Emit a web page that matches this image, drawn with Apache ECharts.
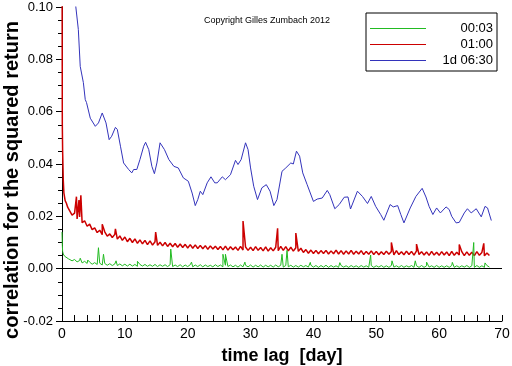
<!DOCTYPE html>
<html><head><meta charset="utf-8">
<script src="https://cdn.jsdelivr.net/npm/echarts@6/dist/echarts.min.js"></script>
<style>html,body{margin:0;padding:0;background:#fff}#c{width:512px;height:366px}</style>
</head><body><div id="c"></div>
<script>
var seriesNames = ['00:03', '01:00', '1d 06:30'];
var seriesColors = ['#22bb22', '#cc0000', '#3333bb'];
var xTicks = [0, 10, 20, 30, 40, 50, 60, 70];

// regular lag grid (days) used by the two dense series after the first day
var gridStart = 1.2, gridStep = 0.4, gridCount = 168;

var greenEarlyLag = [0.0, 0.05, 0.1, 0.2, 0.4, 0.7, 1.0];
var greenEarlyVal = [0.0140, 0.0090, 0.0066, 0.0056, 0.0048, 0.0042, 0.0038];
var greenVal = [
0.0038,0.0030,0.0035,0.0026,0.0031,0.0022,0.0028,0.0020,0.0025,0.0017,
0.0023,0.0016,0.0021,0.0014,0.0020,0.0013,0.0019,0.0012,0.0018,0.0012,
0.0018,0.0011,0.0017,0.0010,0.0017,0.0010,0.0016,0.0009,0.0016,0.0010,
0.0016,0.0009,0.0015,0.0009,0.0016,0.0008,0.0015,0.0009,0.0015,0.0008,
0.0015,0.0008,0.0014,0.0008,0.0015,0.0007,0.0014,0.0008,0.0015,0.0007,
0.0014,0.0008,0.0015,0.0007,0.0014,0.0008,0.0013,0.0007,0.0015,0.0008,
0.0014,0.0007,0.0013,0.0008,0.0014,0.0007,0.0013,0.0006,0.0014,0.0007,
0.0013,0.0007,0.0014,0.0006,0.0013,0.0007,0.0014,0.0006,0.0013,0.0007,
0.0013,0.0006,0.0014,0.0007,0.0013,0.0006,0.0012,0.0007,0.0013,0.0006,
0.0012,0.0006,0.0013,0.0007,0.0012,0.0006,0.0013,0.0006,0.0012,0.0005,
0.0012,0.0006,0.0013,0.0005,0.0012,0.0006,0.0011,0.0005,0.0012,0.0006,
0.0011,0.0005,0.0012,0.0006,0.0011,0.0005,0.0012,0.0006,0.0011,0.0005,
0.0012,0.0005,0.0011,0.0006,0.0012,0.0005,0.0011,0.0005,0.0012,0.0006,
0.0011,0.0005,0.0012,0.0005,0.0011,0.0006,0.0012,0.0005,0.0011,0.0005,
0.0012,0.0005,0.0011,0.0006,0.0011,0.0005,0.0012,0.0005,0.0011,0.0005,
0.0011,0.0005,0.0012,0.0005,0.0011,0.0005,0.0011,0.0006,0.0012,0.0005,
0.0011,0.0005,0.0012,0.0005,0.0011,0.0005,0.0012,0.0006
];
var greenSpikeLag = [2.9, 4.1, 5.8, 6.6, 8.6, 12.0, 17.3, 20.6, 25.6, 26.0, 29.1, 35.0, 35.8, 39.5, 44.2, 49.1, 52.5, 56.2, 58.0, 62.1, 65.5, 67.3];
var greenSpikeVal = [0.0040, 0.0033, 0.0080, 0.0055, 0.0030, 0.0028, 0.0075, 0.0025, 0.0055, 0.0055, 0.0025, 0.0055, 0.0070, 0.0024, 0.0023, 0.0052, 0.0030, 0.0030, 0.0025, 0.0024, 0.0100, 0.0022];

var redEarlyLag = [0.0, 0.05, 0.1, 0.2, 0.3, 0.5, 0.7, 0.9];
var redEarlyVal = [0.1400, 0.0550, 0.0450, 0.0340, 0.0290, 0.0260, 0.0250, 0.0235];
var redVal = [
0.0228,0.0205,0.0212,0.0190,0.0198,0.0176,0.0183,0.0162,0.0170,0.0149,
0.0156,0.0138,0.0147,0.0130,0.0141,0.0124,0.0133,0.0119,0.0131,0.0113,
0.0125,0.0108,0.0121,0.0103,0.0116,0.0100,0.0114,0.0097,0.0110,0.0095,
0.0108,0.0092,0.0106,0.0090,0.0103,0.0089,0.0101,0.0087,0.0100,0.0085,
0.0097,0.0084,0.0096,0.0082,0.0094,0.0081,0.0093,0.0079,0.0092,0.0078,
0.0091,0.0077,0.0089,0.0076,0.0088,0.0074,0.0087,0.0075,0.0086,0.0073,
0.0085,0.0072,0.0086,0.0071,0.0084,0.0072,0.0083,0.0070,0.0085,0.0071,
0.0083,0.0070,0.0082,0.0069,0.0084,0.0070,0.0081,0.0068,0.0083,0.0067,
0.0080,0.0068,0.0082,0.0069,0.0085,0.0070,0.0084,0.0068,0.0082,0.0067,
0.0080,0.0066,0.0078,0.0062,0.0073,0.0059,0.0071,0.0058,0.0070,0.0057,
0.0069,0.0058,0.0070,0.0056,0.0068,0.0057,0.0071,0.0056,0.0069,0.0055,
0.0068,0.0056,0.0070,0.0055,0.0067,0.0056,0.0069,0.0054,0.0066,0.0055,
0.0068,0.0054,0.0066,0.0053,0.0065,0.0054,0.0067,0.0055,0.0066,0.0053,
0.0069,0.0054,0.0065,0.0053,0.0067,0.0054,0.0066,0.0052,0.0068,0.0054,
0.0065,0.0052,0.0064,0.0051,0.0066,0.0052,0.0063,0.0051,0.0065,0.0052,
0.0064,0.0050,0.0066,0.0051,0.0063,0.0052,0.0065,0.0050,0.0064,0.0051,
0.0063,0.0050,0.0065,0.0051,0.0062,0.0049,0.0060,0.0050
];
var redSpikeLag = [2.3, 2.7, 3.0, 3.9, 6.4, 8.5, 14.9, 28.8, 34.3, 37.2, 52.4, 56.4, 63.2, 67.1];
var redSpikeVal = [0.0275, 0.0262, 0.0280, 0.0185, 0.0170, 0.0152, 0.0140, 0.0182, 0.0154, 0.0136, 0.0100, 0.0094, 0.0092, 0.0097];

var blueLag = [1.9,2.2,2.6,2.9,3.4,3.7,3.9,4.5,5.3,5.8,6.4,7.0,7.5,7.9,8.5,8.8,9.3,9.8,10.6,11.1,11.4,11.9,12.4,13.0,13.3,13.8,14.3,14.7,15.1,15.6,15.9,16.3,17.0,17.8,18.5,19.3,20.1,20.7,21.2,21.6,22.0,22.4,23.1,23.7,24.3,24.7,25.5,26.0,26.8,27.6,28.0,28.5,29.2,29.6,30.0,30.5,31.1,31.8,32.5,33.1,33.7,34.2,35.0,35.6,35.9,36.4,36.8,37.3,37.8,38.3,39.0,40.0,40.6,41.4,42.2,42.6,43.4,44.1,44.9,45.5,45.9,47.0,47.8,48.6,49.2,49.9,50.7,51.2,52.2,52.7,53.4,53.9,54.4,55.4,56.3,57.3,57.9,58.4,59.0,59.6,60.2,61.1,61.6,62.0,62.7,63.2,64.0,64.5,65.1,65.9,66.7,67.3,67.7,68.3];
var blueVal = [0.108,0.100,0.0914,0.0773,0.0711,0.0646,0.0635,0.0575,0.0544,0.0557,0.0595,0.0557,0.0493,0.0506,0.0540,0.0532,0.0468,0.0404,0.0379,0.0366,0.0379,0.0379,0.0417,0.0468,0.0483,0.0455,0.0391,0.0363,0.0404,0.0481,0.0487,0.0455,0.0417,0.0391,0.0385,0.0347,0.0334,0.0289,0.0241,0.0264,0.0296,0.0283,0.0328,0.0351,0.0328,0.0328,0.0351,0.0340,0.0359,0.0414,0.0398,0.0417,0.0481,0.0455,0.0385,0.0315,0.0264,0.0309,0.0321,0.0296,0.0241,0.0264,0.0372,0.0385,0.0379,0.0404,0.0400,0.0449,0.0430,0.0366,0.0321,0.0257,0.0266,0.0270,0.0299,0.0283,0.0229,0.0245,0.0273,0.0274,0.0228,0.0296,0.0276,0.0249,0.0276,0.0238,0.0207,0.0185,0.0245,0.0236,0.0241,0.0207,0.0175,0.0232,0.0276,0.0307,0.0274,0.0238,0.0207,0.0232,0.0213,0.0236,0.0226,0.0200,0.0175,0.0177,0.0213,0.0229,0.0213,0.0229,0.0198,0.0238,0.0232,0.0184];

function gridLags() { var a = []; for (var i = 0; i < gridCount; i++) a.push(+(gridStart + i * gridStep).toFixed(2)); return a; }
function pairs(lags, vals) { return lags.map(function (x, i) { return [x, vals[i]]; }); }
function byLag(a, b) { return a[0] - b[0]; }
var lagGrid = gridLags();
var greenData = pairs(greenEarlyLag, greenEarlyVal).concat(pairs(lagGrid, greenVal), pairs(greenSpikeLag, greenSpikeVal)).sort(byLag);
var redData = pairs(redEarlyLag, redEarlyVal).concat(pairs(lagGrid, redVal), pairs(redSpikeLag, redSpikeVal)).sort(byLag);
var blueData = pairs(blueLag, blueVal);

var FONT = '"Liberation Sans", Arial, sans-serif';
var chart = echarts.init(document.getElementById('c'), null, {renderer: 'canvas'});
chart.setOption({
  animation: false,
  backgroundColor: '#ffffff',
  color: seriesColors,
  textStyle: {fontFamily: FONT},
  title: {
    text: 'Copyright Gilles Zumbach 2012', left: 199, top: 11,
    textStyle: {fontSize: 9, fontWeight: 'normal', color: '#000', fontFamily: FONT}
  },
  legend: {
    orient: 'vertical', right: 15, top: 13,
    width: 128,
    padding: [9, 4, 4, 4],
    borderColor: '#000', borderWidth: 1,
    itemWidth: 56, itemHeight: 1, itemGap: 3,
    icon: 'rect',
    data: seriesNames.map(function (n, i) {
      return {name: n, icon: 'rect', itemStyle: {color: seriesColors[i], borderWidth: 0}};
    }),
    formatter: function (n) { return '{a|' + n + '}'; },
    textStyle: {
      fontSize: 13, color: '#000', fontFamily: FONT,
      rich: {a: {width: 62, align: 'right', fontSize: 13, lineHeight: 11, fontFamily: FONT}}
    }
  },
  grid: {left: 62, right: 10, top: 7, bottom: 45, containLabel: false, outerBoundsMode: 'none'},
  xAxis: {
    type: 'value', min: 0, max: 70, interval: 10,
    name: 'time lag  [day]', nameLocation: 'middle', nameGap: 26, nameMoveOverlap: false,
    nameTextStyle: {fontSize: 18, fontWeight: 'bold', color: '#000', fontFamily: FONT},
    axisLine: {onZero: false, lineStyle: {color: '#000', width: 1}},
    axisTick: {inside: true, length: 6, lineStyle: {color: '#000'}},
    minorTick: {show: true, splitNumber: 5, length: 6, lineStyle: {color: '#000'}},
    axisLabel: {fontSize: 14, color: '#000', margin: 6, fontFamily: FONT,
      formatter: function (v) { return xTicks.indexOf(v) >= 0 ? String(v) : ''; }},
    splitLine: {show: false}
  },
  yAxis: {
    type: 'value', min: -0.02, max: 0.10, interval: 0.02,
    name: 'correlation for the squared return', nameLocation: 'middle', nameGap: 40, nameMoveOverlap: false,
    nameTextStyle: {fontSize: 20, fontWeight: 'bold', color: '#000', fontFamily: FONT, padding: [0, 32, 0, 0]},
    axisLine: {show: true, lineStyle: {color: '#000', width: 1}},
    axisTick: {inside: false, length: 6, lineStyle: {color: '#000'}},
    minorTick: {show: true, splitNumber: 4, length: 4, lineStyle: {color: '#000'}},
    axisLabel: {fontSize: 13, color: '#000', margin: 9, fontFamily: FONT,
      formatter: function (v) { return v.toFixed(2); }},
    splitLine: {show: false}
  },
  series: [
    {name: seriesNames[0], type: 'line', data: greenData, showSymbol: false, z: 4,
      lineStyle: {color: seriesColors[0], width: 1}, itemStyle: {color: seriesColors[0]},
      markLine: {silent: true, symbol: 'none', label: {show: false},
        lineStyle: {color: '#000', type: 'solid', width: 1}, data: [{yAxis: 0}], z: 1}},
    {name: seriesNames[1], type: 'line', data: redData, showSymbol: false, z: 3,
      lineStyle: {color: seriesColors[1], width: 1.5}, itemStyle: {color: seriesColors[1]}},
    {name: seriesNames[2], type: 'line', data: blueData, showSymbol: false, z: 2,
      lineStyle: {color: seriesColors[2], width: 1}, itemStyle: {color: seriesColors[2]}}
  ]
});
</script></body></html>
